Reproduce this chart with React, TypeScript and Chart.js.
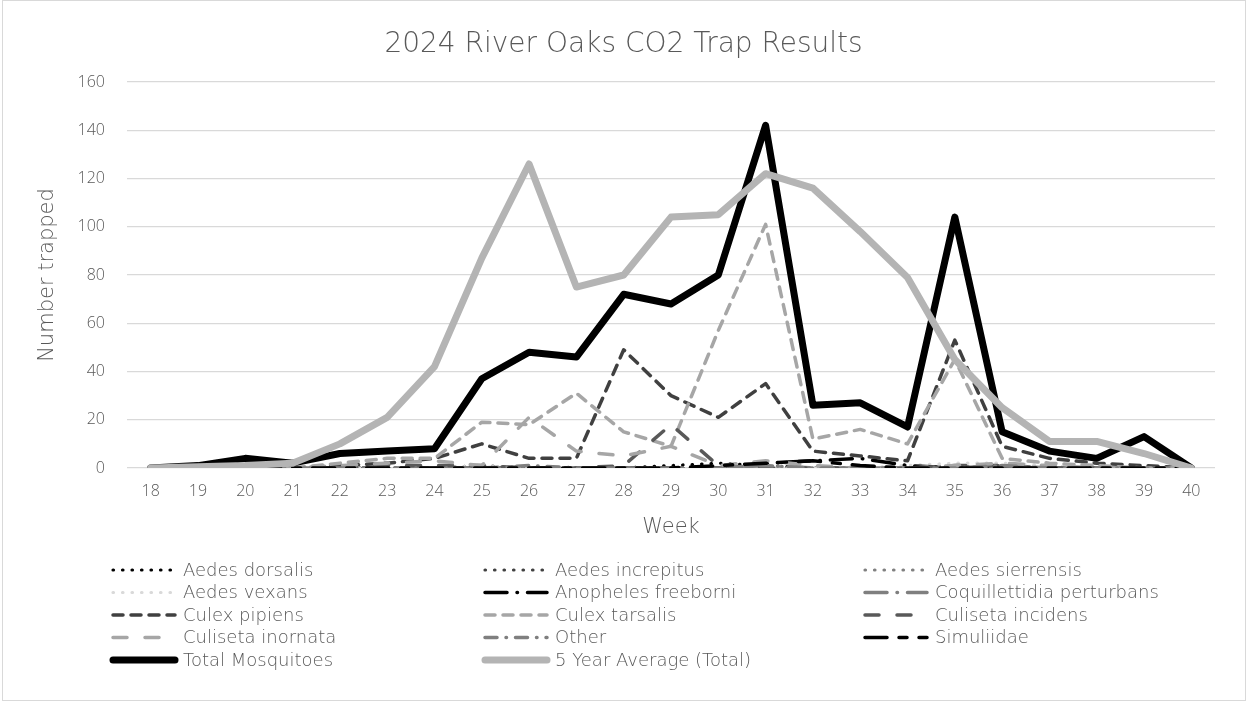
import React, { useEffect, useRef } from "react";
import { Chart, registerables } from "chart.js";
Chart.register(...registerables);

// ---- data (weeks 18..40) ----
const weeks = ["18","19","20","21","22","23","24","25","26","27","28","29","30","31","32","33","34","35","36","37","38","39","40"];
const aedesDorsalis      = [0,0,0,0,0,0,0,0,0,0,0,1,2,1,0,0,0,0,0,0,0,0,0];
const aedesIncrepitus    = [0,0,0,0,0,0,0,1,0,0,0,0,0,0,0,0,0,0,0,0,0,0,0];
const aedesSierrensis    = [0,0,0,0,0,0,0,0,0,0,0,0,0,0,0,0,0,1,0,0,0,0,0];
const aedesVexans        = [0,0,0,0,0,0,0,1,0,0,0,0,0,0,0,0,1,2,2,1,0,0,0];
const anophelesFreeborni = [0,0,0,0,0,0,0,0,0,0,0,0,0,2,3,4,1,0,0,0,0,0,0];
const coquillettidia     = [0,0,0,0,0,0,0,0,0,0,0,0,0,1,0,0,0,0,1,0,0,0,0];
const culexPipiens       = [0,0,0,0,1,2,4,10,4,4,49,30,21,35,7,5,3,53,9,4,2,1,0];
const culexTarsalis      = [0,0,0,0,2,4,4,19,18,31,15,9,57,101,12,16,10,45,4,2,1,0,0];
const culisetaIncidens   = [0,0,0,0,0,1,1,1,0,0,1,18,1,0,0,0,0,1,1,0,0,0,0];
const culisetaInornata   = [0,0,0,0,1,2,3,1,21,7,5,9,1,3,1,0,0,1,2,1,0,0,0];
const other              = [0,0,0,0,0,0,0,0,1,0,0,0,0,1,0,0,0,0,1,0,0,0,0];
const simuliidae         = [0,0,0,0,0,0,0,0,0,0,0,0,1,2,3,1,0,0,0,0,0,0,0];
const totalMosquitoes    = [0,1,4,2,6,7,8,37,48,46,72,68,80,142,26,27,17,104,15,7,4,13,0];
const fiveYearAverage    = [0,0.5,1,2,10,21,42,87,126,75,80,104,105,122,116,98,79,45,25,11,11,6,0];
const yTicks = [0, 20, 40, 60, 80, 100, 120, 140, 160];

const TEXT = "#595959";
const WIDE = "DejaVu Sans";
const TICKF = "Open Sans";

const series = [
  { label: "Aedes dorsalis", data: aedesDorsalis, color: "#000000", width: 3.2, dash: [0.5, 9] },
  { label: "Aedes increpitus", data: aedesIncrepitus, color: "#404040", width: 3.2, dash: [0.5, 9] },
  { label: "Aedes sierrensis", data: aedesSierrensis, color: "#808080", width: 3.2, dash: [0.5, 9] },
  { label: "Aedes vexans", data: aedesVexans, color: "#d9d9d9", width: 3.2, dash: [0.5, 9] },
  { label: "Anopheles freeborni", data: anophelesFreeborni, color: "#000000", width: 3.5, dash: [22, 10, 0.5, 10] },
  { label: "Coquillettidia perturbans", data: coquillettidia, color: "#7f7f7f", width: 3.5, dash: [22, 10, 0.5, 10] },
  { label: "Culex pipiens", data: culexPipiens, color: "#404040", width: 3.5, dash: [10, 8] },
  { label: "Culex tarsalis", data: culexTarsalis, color: "#a6a6a6", width: 3.5, dash: [10, 8] },
  { label: "Culiseta incidens", data: culisetaIncidens, color: "#595959", width: 3.5, dash: [14, 18] },
  { label: "Culiseta inornata", data: culisetaInornata, color: "#a6a6a6", width: 3.5, dash: [14, 18] },
  { label: "Other", data: other, color: "#7f7f7f", width: 3.5, dash: [12, 9, 0.5, 9] },
  { label: "Simuliidae", data: simuliidae, color: "#000000", width: 3.5, dash: [22, 12, 8, 12] },
  { label: "Total Mosquitoes", data: totalMosquitoes, color: "#000000", width: 7, dash: [] as number[] },
  { label: "5 Year Average (Total)", data: fiveYearAverage, color: "#b4b4b4", width: 7, dash: [] as number[] },
];

const LEGEND_COLS = [110, 482, 862];
const LEGEND_TOP = 570;
const LEGEND_ROW = 22.5;

const gridLegend = {
  id: "gridLegend",
  afterDraw(chart: any) {
    const ctx = chart.ctx;
    ctx.save();
    ctx.setLineDash([]);
    ctx.strokeStyle = "#d9d9d9";
    ctx.lineWidth = 1;
    ctx.strokeRect(2.5, 0.5, chart.width - 4, chart.height - 2);
    chart.data.datasets.forEach((ds: any, i: number) => {
      const row = Math.floor(i / 3);
      const col = i % 3;
      const x0 = LEGEND_COLS[col];
      const y = LEGEND_TOP + row * LEGEND_ROW;
      ctx.beginPath();
      ctx.strokeStyle = ds.borderColor;
      ctx.lineWidth = ds.borderWidth;
      ctx.lineCap = "round";
      ctx.setLineDash(ds.borderDash || []);
      ctx.moveTo(x0 + 3, y);
      ctx.lineTo(x0 + 65, y);
      ctx.stroke();
      ctx.setLineDash([]);
      ctx.fillStyle = TEXT;
      ctx.font = `200 18px "${WIDE}"`;
      ctx.textBaseline = "middle";
      ctx.textAlign = "left";
      ctx.fillText(ds.label, x0 + 73, y + 1);
    });
    ctx.restore();
  },
};

export default function App() {
  const ref = useRef<HTMLCanvasElement | null>(null);
  useEffect(() => {
    document.body.style.margin = "0";
    const canvas = ref.current!;
    const chart = new Chart(canvas, {
      type: "line",
      data: {
        labels: weeks,
        datasets: series.map((s, i) => ({
          label: s.label,
          data: s.data,
          borderColor: s.color,
          backgroundColor: s.color,
          borderWidth: s.width,
          borderDash: s.dash,
          borderCapStyle: "round",
          borderJoinStyle: "round",
          pointRadius: 0,
          pointHoverRadius: 0,
          tension: 0,
          fill: false,
          yAxisID: "y",
          order: series.length - i,
        })),
      },
      options: {
        responsive: false,
        animation: false,
        devicePixelRatio: 1,
        layout: { padding: { left: 0, right: 0, top: 0, bottom: 162 } },
        plugins: {
          legend: { display: false },
          tooltip: { enabled: false },
          title: {
            display: true,
            text: "2024 River Oaks CO2 Trap Results",
            color: TEXT,
            font: { family: WIDE, size: 28, weight: "200" as any, lineHeight: 1.2 },
            padding: { top: 28, bottom: 20.4 },
          },
        },
        scales: {
          x: {
            type: "category",
            offset: true,
            grid: { display: false, drawTicks: false },
            border: { display: false },
            ticks: { color: TEXT, font: { family: TICKF, size: 16, weight: "300" as any }, padding: 14, maxRotation: 0, autoSkip: false },
            title: { display: true, text: "Week", color: TEXT, font: { family: WIDE, size: 21, weight: "200" as any }, padding: { top: 0, bottom: 0 } },
            afterFit: (scale: any) => { scale.height = 72; },
          },
          y: {
            position: "left",
            min: 0,
            max: 160,
            afterBuildTicks: (scale: any) => { scale.ticks = yTicks.map((v) => ({ value: v })); },
            grid: { color: "#d9d9d9", lineWidth: 1.3, drawTicks: false },
            border: { display: false },
            ticks: { color: TEXT, font: { family: TICKF, size: 16, weight: "300" as any }, padding: 22 },
            title: { display: true, text: "Number trapped", color: TEXT, font: { family: WIDE, size: 21, weight: "200" as any }, padding: { top: 35, bottom: 0 } },
            afterFit: (scale: any) => { scale.width = 127; },
          },
          ySpacer: {
            position: "right",
            min: 0,
            max: 160,
            grid: { display: false, drawTicks: false },
            border: { display: false },
            ticks: { display: false },
            afterFit: (scale: any) => { scale.width = 32; },
          },
        },
      },
      plugins: [gridLegend],
    });
    return () => chart.destroy();
  }, []);
  return (
    <div style={{ position: "absolute", left: 0, top: 0, width: 1247, height: 702, background: "#fff" }}>
      <canvas ref={ref} width={1247} height={702} />
    </div>
  );
}
